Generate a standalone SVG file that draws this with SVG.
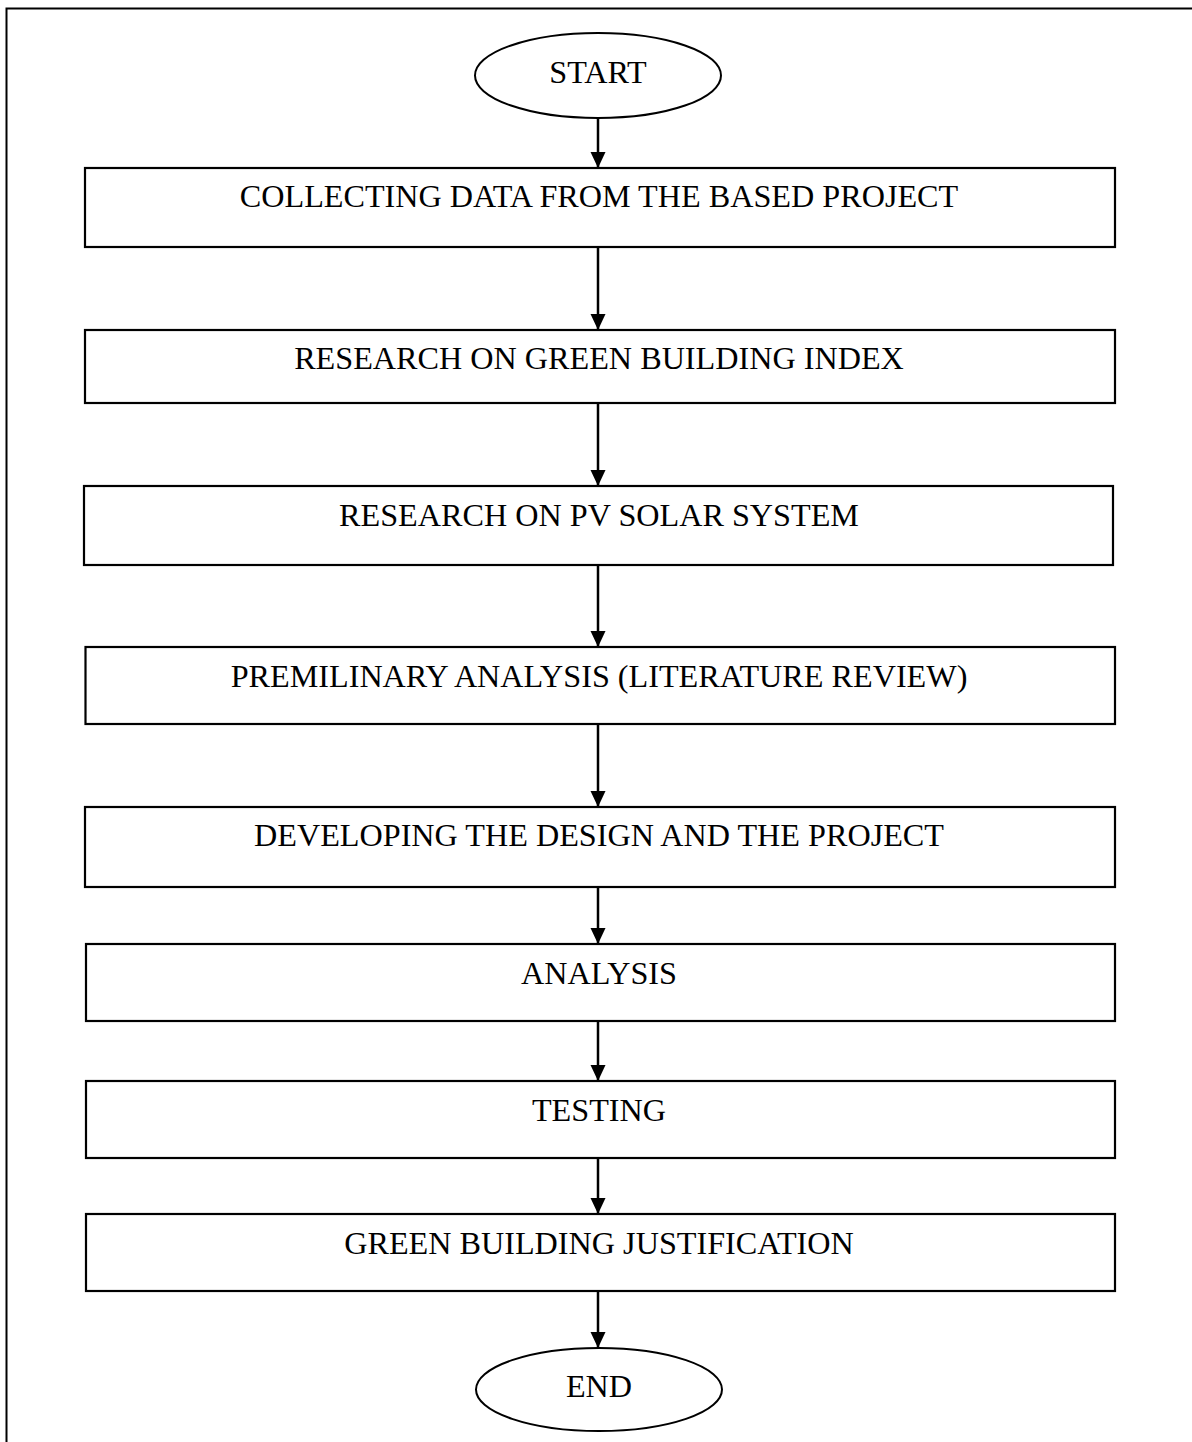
<svg xmlns="http://www.w3.org/2000/svg" width="1192" height="1442" viewBox="0 0 1192 1442">
  <style>
    .box { fill: #ffffff; stroke: #000000; stroke-width: 2.2; }
    .term { fill: #ffffff; stroke: #000000; stroke-width: 2; }
    .label { font-family: "Liberation Serif", "Times New Roman", serif; font-size: 32.2px; fill: #000000; text-anchor: middle; }
    .flow { stroke: #000000; stroke-width: 2.5; fill: none; marker-end: url(#head); }
    .frame { stroke: #000000; stroke-width: 2; fill: none; }
  </style>
  <defs>
    <marker id="head" markerWidth="16" markerHeight="16" viewBox="0 0 16 16" refX="16" refY="8" orient="auto" markerUnits="userSpaceOnUse">
      <path d="M0,0.5 L16,8 L0,15.5 Z" fill="#000000"/>
    </marker>
  </defs>
  <rect width="1192" height="1442" fill="#ffffff"/>

  <!-- page frame -->
  <path class="frame" d="M6.5,1442 V8.5 H1192"/>

  <!-- connectors -->
  <g id="connectors">
    <line class="flow" x1="598" y1="118" x2="598" y2="168"/>
    <line class="flow" x1="598" y1="247" x2="598" y2="330"/>
    <line class="flow" x1="598" y1="403" x2="598" y2="486"/>
    <line class="flow" x1="598" y1="565" x2="598" y2="647"/>
    <line class="flow" x1="598" y1="724" x2="598" y2="807"/>
    <line class="flow" x1="598" y1="887" x2="598" y2="944"/>
    <line class="flow" x1="598" y1="1021" x2="598" y2="1081"/>
    <line class="flow" x1="598" y1="1158" x2="598" y2="1214"/>
    <line class="flow" x1="598" y1="1291" x2="598" y2="1348"/>
  </g>

  <g id="start">
    <ellipse class="term" cx="598" cy="75.5" rx="123" ry="42.5"/>
    <text class="label" x="598" y="83">START</text>
  </g>

  <g id="collect">
    <rect class="box" x="85" y="168" width="1030" height="79"/>
    <text class="label" x="599" y="207">COLLECTING DATA FROM THE BASED PROJECT</text>
  </g>

  <g id="gbi">
    <rect class="box" x="85" y="330" width="1030" height="73"/>
    <text class="label" x="599" y="369">RESEARCH ON GREEN BUILDING INDEX</text>
  </g>

  <g id="pv">
    <rect class="box" x="84" y="486" width="1029" height="79"/>
    <text class="label" x="599" y="526">RESEARCH ON PV SOLAR SYSTEM</text>
  </g>

  <g id="prelim">
    <rect class="box" x="85.5" y="647" width="1029.5" height="77"/>
    <text class="label" x="599" y="687">PREMILINARY ANALYSIS (LITERATURE REVIEW)</text>
  </g>

  <g id="develop">
    <rect class="box" x="85" y="807" width="1030" height="80"/>
    <text class="label" x="599" y="846">DEVELOPING THE DESIGN AND THE PROJECT</text>
  </g>

  <g id="analysis">
    <rect class="box" x="86" y="944" width="1029" height="77"/>
    <text class="label" x="599" y="984">ANALYSIS</text>
  </g>

  <g id="testing">
    <rect class="box" x="86" y="1081" width="1029" height="77"/>
    <text class="label" x="599" y="1121">TESTING</text>
  </g>

  <g id="justify">
    <rect class="box" x="86" y="1214" width="1029" height="77"/>
    <text class="label" x="599" y="1254">GREEN BUILDING JUSTIFICATION</text>
  </g>

  <g id="end">
    <ellipse class="term" cx="599" cy="1389.5" rx="123" ry="41.5"/>
    <text class="label" x="599" y="1397">END</text>
  </g>
</svg>
